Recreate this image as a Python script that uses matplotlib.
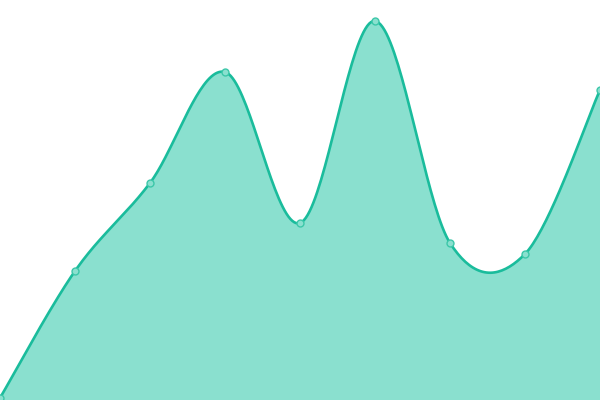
import numpy as np
import matplotlib
matplotlib.use("Agg")
import matplotlib.pyplot as plt

# data
x_vals = [0, 1, 2, 3, 4, 5, 6, 7, 8]
y_vals = [2, 129, 217, 328, 177, 379, 157, 146, 310]

line_col = "#1abc9c"
fill_col = "#8ae0cf"


def cardinal(xs, ys, steps=40):
    # catmull-rom style spline through the points, ends use one-sided tangents
    xs = np.asarray(xs, float)
    ys = np.asarray(ys, float)
    n = len(xs)
    mx = np.zeros(n)
    my = np.zeros(n)
    for i in range(n):
        if i == 0:
            mx[i], my[i] = (xs[1] - xs[0]) / 2, (ys[1] - ys[0]) / 2
        elif i == n - 1:
            mx[i], my[i] = (xs[-1] - xs[-2]) / 2, (ys[-1] - ys[-2]) / 2
        else:
            mx[i], my[i] = (xs[i + 1] - xs[i - 1]) / 2, (ys[i + 1] - ys[i - 1]) / 2
    t = np.linspace(0, 1, steps)
    h00 = 2 * t**3 - 3 * t**2 + 1
    h10 = t**3 - 2 * t**2 + t
    h01 = -2 * t**3 + 3 * t**2
    h11 = t**3 - t**2
    px, py = [], []
    for i in range(n - 1):
        px.append(h00 * xs[i] + h10 * mx[i] + h01 * xs[i + 1] + h11 * mx[i + 1])
        py.append(h00 * ys[i] + h10 * my[i] + h01 * ys[i + 1] + h11 * my[i + 1])
    return np.concatenate(px), np.concatenate(py)


sx, sy = cardinal(x_vals, y_vals)

fig = plt.figure(figsize=(6, 4), dpi=100)
ax = fig.add_axes([0, 0, 1, 1])
ax.fill_between(sx, sy, 0, color=fill_col, linewidth=0)
ax.plot(sx, sy, color=line_col, linewidth=1.9, solid_capstyle="round")
ax.plot(x_vals, y_vals, "o", markersize=5, markerfacecolor="#8ae0cf",
        markeredgecolor="#3cc7a9", markeredgewidth=1, clip_on=False)
ax.set_xlim(0, 8)
ax.set_ylim(0, 400)
ax.axis("off")
fig.savefig("out.png", dpi=100)
